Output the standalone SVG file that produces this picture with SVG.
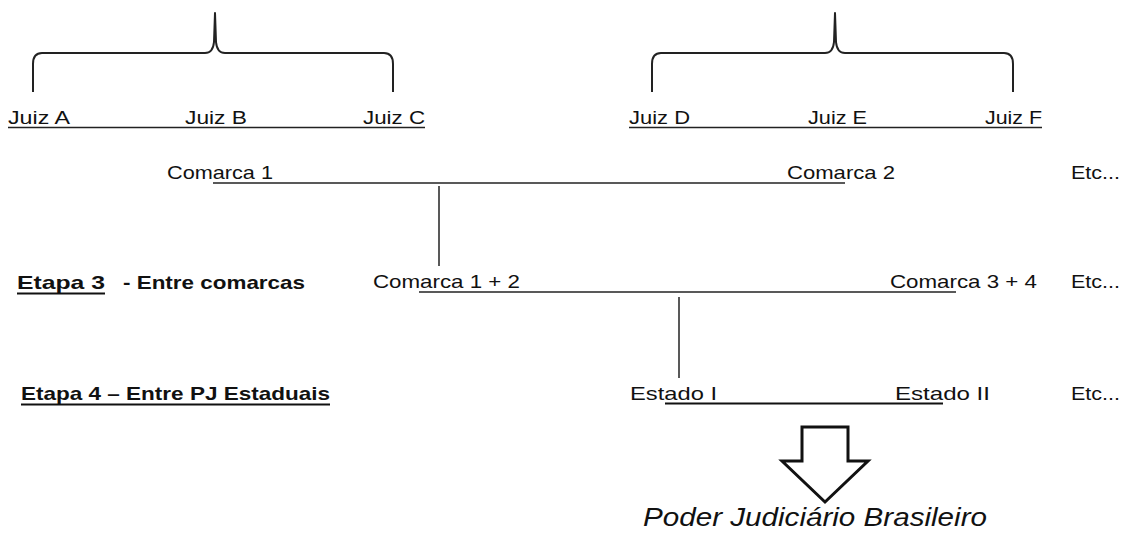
<svg xmlns="http://www.w3.org/2000/svg" width="1127" height="533" viewBox="0 0 1127 533">
  <style>
    .t { font-family: "Liberation Sans", Arial, sans-serif; font-size: 19px; fill: #111; }
    .b { font-weight: bold; font-size: 18.5px; }
    .it { font-style: italic; font-size: 25px; }
    .ln { stroke: #222; stroke-width: 1.5; fill: none; }
    .ul { stroke: #111; stroke-width: 2; fill: none; }
    .brace { stroke: #222; stroke-width: 2; fill: none; stroke-linejoin: round; }
  </style>
  <rect width="1127" height="533" fill="#fff"/>

  <!-- braces grouping the judges -->
  <g id="brace-1">
    <path class="brace" d="M33,92 L33,64 Q33,53 42,53 L205,53 Q213,53 214,42 L215,13 L216,42 Q217,53 225,53 L384,53 Q393,53 393,64 L393,92"/>
  </g>
  <g id="brace-2">
    <path class="brace" d="M652,92 L652,64 Q652,53 661,53 L825,53 Q833,53 834,42 L835,13 L836,42 Q837,53 845,53 L1004,53 Q1013,53 1013,64 L1013,92"/>
  </g>

  <!-- judges -->
  <g id="juizes-1">
    <text class="t" x="8" y="124" textLength="62" lengthAdjust="spacingAndGlyphs">Juiz A</text>
    <text class="t" x="185" y="124" textLength="62" lengthAdjust="spacingAndGlyphs">Juiz B</text>
    <text class="t" x="363" y="124" textLength="62" lengthAdjust="spacingAndGlyphs">Juiz C</text>
  </g>
  <g id="juizes-2">
    <text class="t" x="629" y="124" textLength="61" lengthAdjust="spacingAndGlyphs">Juiz D</text>
    <text class="t" x="808" y="124" textLength="59" lengthAdjust="spacingAndGlyphs">Juiz E</text>
    <text class="t" x="985" y="124" textLength="57" lengthAdjust="spacingAndGlyphs">Juiz F</text>
  </g>

  <!-- comarcas -->
  <g id="comarca-1"><text class="t" x="167" y="179" textLength="106" lengthAdjust="spacingAndGlyphs">Comarca 1</text></g>
  <g id="comarca-2"><text class="t" x="787" y="179" textLength="108" lengthAdjust="spacingAndGlyphs">Comarca 2</text></g>
  <g id="etc-1"><text class="t" x="1071" y="179" textLength="49" lengthAdjust="spacingAndGlyphs">Etc...</text></g>

  <!-- stage 3 -->
  <g id="etapa-3">
    <text class="t b" x="17" y="289" textLength="88" lengthAdjust="spacingAndGlyphs">Etapa 3</text>
    <text class="t b" x="123" y="289" textLength="182" lengthAdjust="spacingAndGlyphs">- Entre comarcas</text>
    <line class="ul" x1="17" y1="293.5" x2="105" y2="293.5"/>
  </g>
  <g id="comarca-1-2"><text class="t" x="373" y="288" textLength="147" lengthAdjust="spacingAndGlyphs">Comarca 1 + 2</text></g>
  <g id="comarca-3-4"><text class="t" x="890" y="288" textLength="147" lengthAdjust="spacingAndGlyphs">Comarca 3 + 4</text></g>
  <g id="etc-2"><text class="t" x="1071" y="288" textLength="49" lengthAdjust="spacingAndGlyphs">Etc...</text></g>

  <!-- stage 4 -->
  <g id="etapa-4">
    <text class="t b" x="21" y="400" textLength="309" lengthAdjust="spacingAndGlyphs">Etapa 4 – Entre PJ Estaduais</text>
    <line class="ul" x1="21" y1="404.5" x2="330" y2="404.5"/>
  </g>
  <g id="estado-1"><text class="t" x="630" y="400" textLength="87" lengthAdjust="spacingAndGlyphs">Estado I</text></g>
  <g id="estado-2"><text class="t" x="895" y="400" textLength="95" lengthAdjust="spacingAndGlyphs">Estado II</text></g>
  <g id="etc-3"><text class="t" x="1071" y="400" textLength="49" lengthAdjust="spacingAndGlyphs">Etc...</text></g>

  <!-- result -->
  <g id="arrow">
    <path d="M802,427 L848,427 L848,461 L868,461 L825,502 L782,461 L802,461 Z" fill="#fff" stroke="#111" stroke-width="3" stroke-linejoin="miter"/>
  </g>
  <g id="poder-judiciario">
    <text class="t it" x="643" y="526" textLength="344" lengthAdjust="spacingAndGlyphs">Poder Judiciário Brasileiro</text>
  </g>

  <!-- connectors -->
  <g id="connectors">
    <line class="ln" x1="8" y1="127.5" x2="425" y2="127.5"/>
    <line class="ln" x1="629" y1="127.5" x2="1042" y2="127.5"/>
    <line class="ln" x1="213" y1="183" x2="845" y2="183"/>
    <line class="ln" x1="439" y1="186" x2="439" y2="266"/>
    <line class="ln" x1="419" y1="292" x2="956" y2="292"/>
    <line class="ln" x1="679" y1="297" x2="679" y2="378"/>
    <line class="ul" x1="665" y1="403.5" x2="943" y2="403.5"/>
  </g>
</svg>
